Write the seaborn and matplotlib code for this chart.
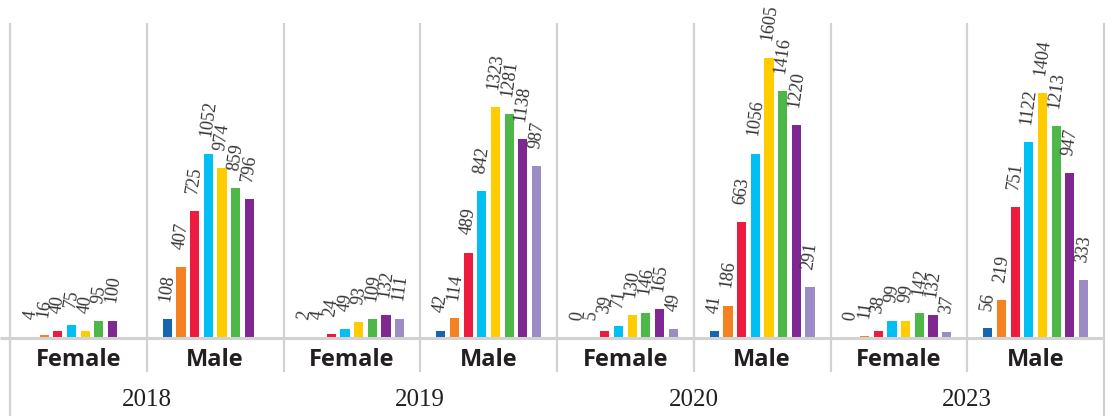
import matplotlib
matplotlib.use("Agg")
import matplotlib.pyplot as plt
import matplotlib.transforms as mtransforms
import pandas as pd
import seaborn as sns

# Data: counts per band (eight bands), by year and sex
years = ["2018", "2019", "2020", "2023"]
sexes = ["Female", "Male"]
bands = ["Band 1", "Band 2", "Band 3", "Band 4", "Band 5", "Band 6", "Band 7", "Band 8"]
band_colors = ["#1565B0", "#F58220", "#ED1C3F", "#00BFF3",
               "#FFCC00", "#4DB848", "#7F2891", "#9B8DC3"]

female_2018 = [4, 16, 40, 75, 40, 95, 100]
male_2018 = [108, 407, 725, 1052, 974, 859, 796]
female_2019 = [2, 4, 24, 49, 93, 109, 132, 111]
male_2019 = [42, 114, 489, 842, 1323, 1281, 1138, 987]
female_2020 = [0, 5, 39, 71, 130, 146, 165, 49]
male_2020 = [41, 186, 663, 1056, 1605, 1416, 1220, 291]
female_2023 = [0, 11, 38, 99, 99, 142, 132, 37]
male_2023 = [56, 219, 751, 1122, 1404, 1213, 947, 333]

series = {
    ("2018", "Female"): female_2018, ("2018", "Male"): male_2018,
    ("2019", "Female"): female_2019, ("2019", "Male"): male_2019,
    ("2020", "Female"): female_2020, ("2020", "Male"): male_2020,
    ("2023", "Female"): female_2023, ("2023", "Male"): male_2023,
}

rows = []
for (yr, sx), vals in series.items():
    for band, v in zip(bands, vals):
        rows.append({"group": f"{yr} {sx}", "year": yr, "sex": sx, "band": band, "value": v})
df = pd.DataFrame(rows)
group_order = [f"{y} {s}" for y in years for s in sexes]

sns.set_theme(style="white")
plt.rcParams["font.family"] = ["Open Sans", "DejaVu Sans"]

fig = plt.figure(figsize=(11.12, 4.16), dpi=100)
W, H = 1112, 416
left_px, right_px, top_px, base_px = 10, 1104, 23, 338
ax = fig.add_axes([left_px / W, (H - base_px) / H,
                   (right_px - left_px) / W, (base_px - top_px) / H])

sns.barplot(data=df, x="group", y="value", hue="band", order=group_order,
            hue_order=bands, palette=band_colors, saturation=1, errorbar=None,
            width=0.8, gap=0.33, dodge=True, legend=False, linewidth=0, ax=ax)

ax.set_xlim(-0.5, len(group_order) - 0.5)
ax.set_ylim(0, 1805)
ax.set_axis_off()

# Value labels above each bar
for cont in ax.containers:
    ax.bar_label(cont, fmt="{:.0f}", padding=12, rotation=82,
                 fontsize=13, family="Liberation Serif", color="#333333",
                 clip_on=False)

grid_col = "#D2D2D2"
trans = mtransforms.blended_transform_factory(ax.transData, ax.transAxes)
ax_h = base_px - top_px

def ax_y(px):
    return (base_px - px) / ax_h

# Vertical separators between panels
n = len(group_order)
for i in range(n + 1):
    xb = i - 0.5
    y_end = 416 if i in (0, n) else 372
    ax.plot([xb, xb], [1.0, ax_y(y_end)], color=grid_col, lw=1.6,
            transform=trans, clip_on=False, solid_capstyle="butt", zorder=0)

# Baseline
ax.plot([-0.5 - 10 / 136.75, n - 0.5], [0, 0], color=grid_col, lw=2.2,
        transform=trans, clip_on=False, solid_capstyle="butt", zorder=3)

# Sex labels under each panel
for i, g in enumerate(group_order):
    sx = g.split(" ")[1]
    ax.text(i, ax_y(360), sx, transform=trans, ha="center", va="center",
            fontsize=17, fontweight="bold", color="#231F20",
            family=["Open Sans", "DejaVu Sans"])

# Year labels centred under each pair
for j, yr in enumerate(years):
    ax.text(2 * j + 0.5, ax_y(400), yr, transform=trans, ha="center", va="center",
            fontsize=18, color="#231F20", family="Liberation Serif")

fig.savefig("out.png", dpi=100)
